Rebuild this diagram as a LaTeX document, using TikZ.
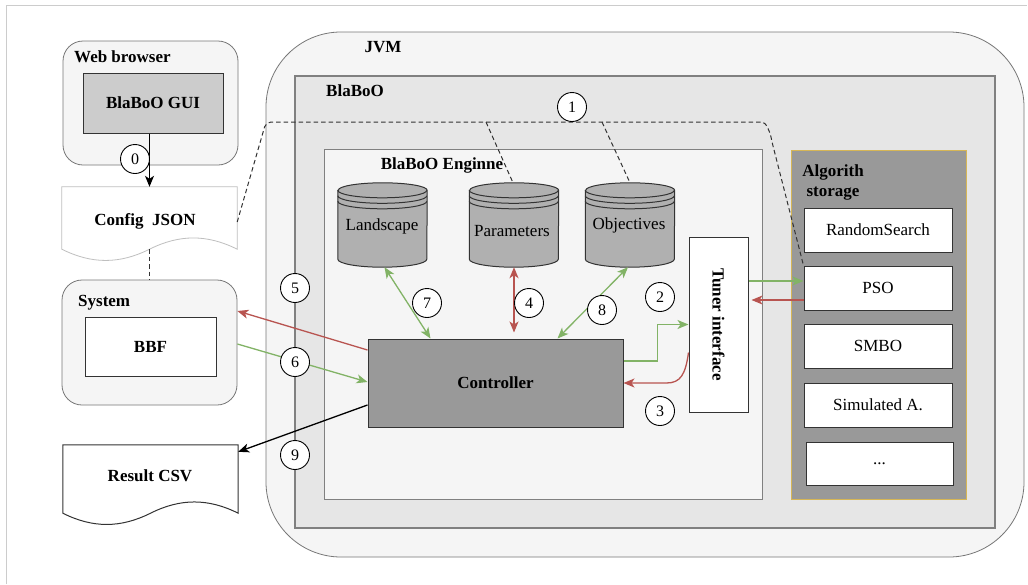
\documentclass[tikz,border=0pt]{standalone}
\usepackage{fontspec}
\setmainfont{Liberation Serif}
\usetikzlibrary{arrows.meta,calc}
\definecolor{gr}{HTML}{82B366}
\definecolor{rd}{HTML}{B85450}
\definecolor{gold}{HTML}{D6B656}
\definecolor{cf5}{HTML}{F5F5F5}
\definecolor{ce6}{HTML}{E6E6E6}
\definecolor{ccc}{HTML}{CCCCCC}
\definecolor{c99}{HTML}{999999}
\definecolor{cyl}{HTML}{B0B0B0}
\definecolor{c33}{HTML}{333333}
\definecolor{c66}{HTML}{777777}
\definecolor{c80}{HTML}{808080}
\definecolor{cbf}{HTML}{BFBFBF}
\newcommand\myfs{\fontsize{17}{20}\selectfont}
\newcommand\docshape[2]{%
  \draw[#2] (#1.north west) -- (#1.north east) -- (#1.south east)
    .. controls ($(#1.south east)+(-30pt,15pt)$) and ($(#1.south)+(30pt,15pt)$) .. (#1.south)
    .. controls ($(#1.south)+(-30pt,-15pt)$) and ($(#1.south west)+(30pt,-15pt)$) .. (#1.south west) -- cycle;}
\newcommand\drawcyl[1]{%
  \draw[fill=cyl, draw=c33, line width=1pt] ([yshift=-7.5pt]#1.north west) -- ([yshift=8pt]#1.south west)
    arc[start angle=180,end angle=360,x radius=44.5pt,y radius=8pt]
    -- ([yshift=-7.5pt]#1.north east)
    arc[start angle=0,end angle=180,x radius=44.5pt,y radius=7.5pt] -- cycle;
  \draw[c33, line width=1pt] ([yshift=-7.5pt]#1.north west) arc[start angle=180,end angle=360,x radius=44.5pt,y radius=7.5pt];
  \draw[c33, line width=1pt] ([yshift=-13pt]#1.north west) arc[start angle=180,end angle=360,x radius=44.5pt,y radius=7.5pt];
  \draw[c33, line width=1pt] ([yshift=-18.5pt]#1.north west) arc[start angle=180,end angle=360,x radius=44.5pt,y radius=7.5pt];}
\begin{document}
\begin{tikzpicture}[x=1pt,y=-1pt,
  every node/.style={font=\myfs, inner sep=0pt},
  lbl/.style={font=\myfs\bfseries},
  item/.style={draw=c33, fill=white, line width=1pt, minimum width=148pt, minimum height=44pt},
  num/.style={circle, draw=black, fill=white, line width=0.9pt, minimum size=29pt, inner sep=0pt, font=\fontsize{16}{16}\selectfont},
  arr/.style={line width=1.3pt, -{Stealth[length=11pt,width=9pt,inset=3pt]}},
  darr/.style={line width=1.3pt, {Stealth[length=11pt,width=9pt,inset=3pt]}-{Stealth[length=11pt,width=9pt,inset=3pt]}},
  dsh/.style={draw=c33, line width=1pt, dash pattern=on 4.5pt off 3pt}
]
\useasboundingbox (0,0) rectangle (1028,584);
\fill[white] (0,0) rectangle (1028,584);
\draw[ccc, line width=0.8pt] (6,584) -- (6,5) -- (1027,5);

% JVM and containers
\node[draw=c66, fill=cf5, rounded corners=75pt, minimum width=758pt, minimum height=525pt, line width=0.8pt] (jvm) at (645,294.5) {};
\node[lbl] at (383,47) {JVM};
\node[draw=c80, fill=ce6, line width=2pt, minimum width=700pt, minimum height=452pt] (blaboo) at (645,302) {};
\node[lbl] at (355,91) {BlaBoO};
\node[draw=c80, fill=cf5, line width=1pt, minimum width=438pt, minimum height=350pt] (engine) at (543,324) {};
\node[lbl] at (442,165) {BlaBoO Enginne};

% Algorithm storage
\node[draw=gold, fill=c99, line width=1pt, minimum width=175pt, minimum height=349pt] (store) at (878.5,324.5) {};
\node[lbl, align=center] at (833,182) {Algorith\\storage};
\node[item] (rs) at (878,230) {RandomSearch};
\node[item] (pso) at (878,288) {PSO};
\node[item] (smbo) at (878,346) {SMBO};
\node[item] (sa) at (878,405) {Simulated A.};
\node[item, minimum width=147pt, minimum height=43pt] (more) at (879.5,463.5) {...};

% Web browser
\node[draw=c66, fill=cf5, rounded corners=20pt, line width=0.8pt, minimum width=175pt, minimum height=124pt] (web) at (150.5,103) {};
\node[lbl, anchor=west] at (74,57) {Web browser};
\node[draw=c33, fill=ccc, line width=1pt, minimum width=140pt, minimum height=60pt, font=\myfs\bfseries] (gui) at (153,103) {BlaBoO GUI};

% Config JSON
\node[minimum width=175pt, minimum height=62pt] (cfg) at (149.5,218) {};
\docshape{cfg}{draw=cbf, fill=white, line width=0.8pt}
\node[lbl] at (145,221) {Config\ \ JSON};

% System
\node[draw=c66, fill=cf5, rounded corners=20pt, line width=0.8pt, minimum width=175pt, minimum height=125pt] (sys) at (149.5,342.5) {};
\node[lbl, anchor=west] at (78,303) {System};
\node[draw=c33, fill=white, line width=1pt, minimum width=131pt, minimum height=59pt, font=\myfs\bfseries] (bbf) at (150.5,346.5) {BBF};

% Result CSV
\node[minimum width=175pt, minimum height=68pt] (csv) at (150.5,479) {};
\docshape{csv}{draw=c33, fill=white, line width=1pt}
\node[lbl] at (150,476) {Result CSV};

% Cylinders
\node[minimum width=89pt, minimum height=84pt] (land) at (382.5,225) {};
\node[minimum width=89pt, minimum height=84pt] (param) at (514,225) {};
\node[minimum width=89pt, minimum height=84pt] (obj) at (630,225) {};
\drawcyl{land}
\drawcyl{param}
\drawcyl{obj}
\node at (382,226) {Landscape};
\node at (512,231) {Parameters};
\node at (629,225) {Objectives};

% Controller and tuner
\node[draw=c33, fill=c99, line width=1pt, minimum width=255pt, minimum height=88pt, font=\myfs\bfseries] (ctrl) at (495.5,383) {Controller};
\node[draw=c33, fill=white, line width=1pt, minimum width=59pt, minimum height=175pt] (tuner) at (718.5,324.5) {};
\node[lbl, rotate=-90] at (tuner) {Tuner interface};

% dashed links
\coordinate (h0) at (266,122);
\coordinate (h1) at (757,122);
\coordinate (h2) at (772,142);
\coordinate (b1) at (486,122);
\coordinate (b2) at (602,122);
\draw[dsh, rounded corners=5pt] ([yshift=-4pt]cfg.east) -- (h0) -- (h1) .. controls (766,122) and (770,132) .. (h2) -- (pso.north west);
\draw[dsh] (b1) -- ([xshift=-1pt]param.north);
\draw[dsh] (b2) -- (obj.north);
\draw[dsh] (cfg.south) -- (sys.north);

% connectors
\draw[arr, black] (cfg.north |- gui.south) -- (cfg.north);
\draw[arr, rd] ([yshift=33pt]ctrl.west) -- ([yshift=31.5pt]sys.east);
\draw[arr, gr] ([yshift=-1.5pt]sys.east) -- ([yshift=1pt]ctrl.west);
\draw[arr, black] ([yshift=-22pt]ctrl.west) -- ([yshift=-7pt]csv.north east);
\draw[darr, gr] ([xshift=2pt]land.south) -- ([xshift=63pt]ctrl.north west);
\draw[darr, rd] (param.south) -- ([yshift=6pt]param.south |- ctrl.north);
\draw[darr, gr] ([xshift=-2pt]obj.south) -- ([xshift=190pt]ctrl.north west);
\draw[arr, gr] ([yshift=22pt]ctrl.east) -- ++(34pt,0pt) |- (tuner.west);
\draw[arr, rd] ([yshift=-28pt]tuner.west) .. controls ($(tuner.west)+(-3pt,-50pt)$) and ($(tuner.west |- ctrl.east)+(-8pt,0pt)$) .. ($(tuner.west |- ctrl.east)+(-22pt,0pt)$) -- (ctrl.east);
\coordinate (pa) at ([yshift=7pt]pso.west);
\coordinate (pb) at ([yshift=-12pt]pso.west);
\coordinate (pc) at ([xshift=3pt]tuner.east);
\draw[arr, gr] (tuner.east |- pa) -- (pa);
\draw[arr, rd] (pb) -- (pc |- pb);

% step numbers
\node[num] (n0) at (135,159) {0};
\node[num] (n1) at (572,107) {1};
\node[num] (n2) at (660,297) {2};
\node[num] (n3) at (660,411) {3};
\node[num] (n4) at (529,303) {4};
\node[num] (n5) at (295,288) {5};
\node[num] (n6) at (295,362) {6};
\node[num] (n7) at (427,303) {7};
\node[num] (n8) at (602,310) {8};
\node[num] (n9) at (295,455) {9};
\end{tikzpicture}
\end{document}
